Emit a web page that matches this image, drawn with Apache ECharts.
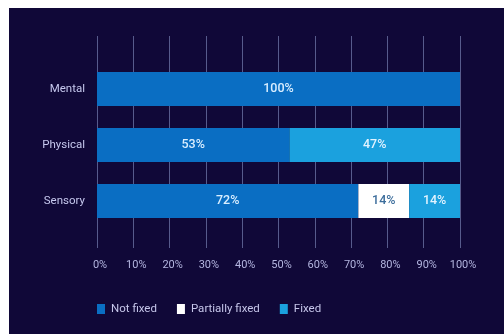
<!DOCTYPE html>
<html>
<head>
<meta charset="utf-8">
<script src="https://cdn.jsdelivr.net/npm/echarts@6/dist/echarts.min.js"></script>
<style>
  html, body { margin: 0; padding: 0; background: #ffffff; width: 504px; height: 334px; overflow: hidden; }
  #bg { position: absolute; left: 9px; top: 8px; right: 0; bottom: 0; background: #100838; }
  #chart { position: absolute; left: 0; top: 0; width: 504px; height: 334px; }
</style>
</head>
<body>
<div id="bg"></div>
<div id="chart"></div>
<script>
const categories = ['Mental', 'Physical', 'Sensory'];
const notFixed = [100, 53, 72];
const partiallyFixed = [0, 0, 14];
const fixed = [0, 47, 14];
const tickValues = [0, 10, 20, 30, 40, 50, 60, 70, 80, 90, 100];

const chart = echarts.init(document.getElementById('chart'), null, { renderer: 'canvas' });

const fontFamily = 'Roboto, "Noto Sans", sans-serif';
const labelFmt = p => (p.value > 0 ? p.value + '%' : '');

function barSeries(name, data, color, labelColor) {
  return {
    name: name,
    type: 'bar',
    stack: 'total',
    xAxisIndex: 0,
    yAxisIndex: 0,
    data: data,
    barWidth: 34,
    itemStyle: { color: color },
    label: {
      show: true,
      position: 'inside',
      formatter: labelFmt,
      color: labelColor,
      fontFamily: fontFamily,
      fontSize: 12.5,
      fontWeight: 500
    },
    emphasis: { disabled: true }
  };
}

chart.setOption({
  backgroundColor: 'transparent',
  animation: false,
  textStyle: { fontFamily: fontFamily },
  legend: {
    left: 97,
    top: 303,
    padding: 0,
    itemWidth: 8,
    itemHeight: 10,
    itemGap: 20,
    icon: 'rect',
    textStyle: { color: '#c6c6ea', fontSize: 11.5, fontFamily: fontFamily, padding: [0, 0, 0, 1] },
    data: ['Not fixed', 'Partially fixed', 'Fixed']
  },
  grid: [
    { left: 97, right: 44, top: 61, bottom: 105 },
    { left: 97, right: 44, top: 36, bottom: 86 }
  ],
  xAxis: [
    {
      gridIndex: 0,
      type: 'value',
      min: 0,
      max: 100,
      interval: 10,
      axisLine: { show: false },
      axisTick: { show: false },
      axisLabel: { show: false },
      splitLine: { show: false }
    },
    {
      gridIndex: 1,
      type: 'value',
      min: tickValues[0],
      max: tickValues[tickValues.length - 1],
      interval: 10,
      axisLine: { show: false },
      axisTick: { show: false },
      axisLabel: {
        show: true,
        margin: 12,
        color: '#b4b6e0',
        fontSize: 11,
        fontFamily: fontFamily,
        padding: [0, 0, 0, 6],
        formatter: '{value}%'
      },
      splitLine: { show: true, lineStyle: { color: '#575b8c', width: 1 } }
    }
  ],
  yAxis: [
    {
      gridIndex: 0,
      type: 'category',
      inverse: true,
      data: categories,
      axisLine: { show: false },
      axisTick: { show: false },
      axisLabel: { margin: 12, color: '#c6c8ee', fontSize: 11.5, fontFamily: fontFamily }
    },
    {
      gridIndex: 1,
      type: 'value',
      show: false
    }
  ],
  series: [
    barSeries('Not fixed', notFixed, '#0a6ec3', '#d9eeff'),
    barSeries('Partially fixed', partiallyFixed, '#ffffff', '#3d6e9c'),
    barSeries('Fixed', fixed, '#1ba1de', '#e2f3ff')
  ]
});
</script>
</body>
</html>
